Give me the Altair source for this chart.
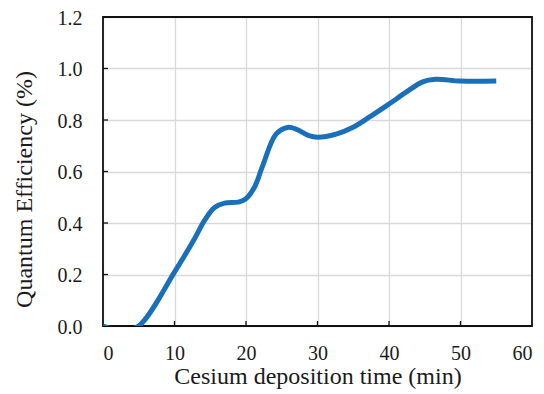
import altair as alt
import pandas as pd

# Cesium deposition time (min) and quantum efficiency (%)
time_min = [0, 2.8, 5.0, 10.1, 12.9, 14.2, 15.6, 17.0, 18.9, 19.9, 21.2, 22.3,
            24.2, 25.8, 27.0, 28.8, 30.0, 32.6, 34.9, 37.3, 40.0, 42.5, 44.7,
            46.5, 50.0, 55.0]
qe_pct = [0, -0.018, 0, 0.214, 0.344, 0.41, 0.46, 0.477, 0.481, 0.492, 0.54, 0.62,
          0.745, 0.771, 0.765, 0.739, 0.733, 0.745, 0.771, 0.812, 0.862, 0.91, 0.948,
          0.958, 0.951, 0.951]

x_ticks = [0, 10, 20, 30, 40, 50, 60]
y_ticks = [0.0, 0.2, 0.4, 0.6, 0.8, 1.0, 1.2]

df = pd.DataFrame({"t": time_min, "qe": qe_pct})
xt = pd.DataFrame({"t": x_ticks[1:-1]})
yt = pd.DataFrame({"qe": y_ticks[1:-1]})
frame_df = pd.DataFrame({"k": [0]})

W, H = 429, 309
FONT = "Liberation Serif, Times New Roman, DejaVu Serif, serif"
TXT = "#1a1a1a"

xscale = alt.Scale(domain=[0, 60], nice=False)
yscale = alt.Scale(domain=[0, 1.2], nice=False)

line = alt.Chart(df).mark_line(
    interpolate="catmull-rom", color="#1a6fba", strokeWidth=5, clip=True
).encode(
    x=alt.X("t:Q", scale=xscale,
            axis=alt.Axis(values=x_ticks, title="Cesium deposition time (min)",
                          grid=True, gridColor="#d9d9d9", gridWidth=1.3,
                          ticks=False, domain=False, labelPadding=17,
                          labelFontSize=20, titleFontSize=24,
                          titleBaseline="alphabetic", titleY=57,
                          labelFont=FONT, titleFont=FONT, labelColor=TXT,
                          titleColor=TXT, titleFontWeight="normal")),
    y=alt.Y("qe:Q", scale=yscale,
            axis=alt.Axis(values=y_ticks, format=".1f", title="Quantum Efficiency (%)",
                          grid=True, gridColor="#d9d9d9", gridWidth=1.3,
                          ticks=False, domain=False, labelPadding=21,
                          labelFontSize=20, titleFontSize=24,
                          labelBaseline="alphabetic", labelOffset=7,
                          titleBaseline="alphabetic", titleX=-72, titleY=172,
                          titleAngle=270, titleAlign="center",
                          labelFont=FONT, titleFont=FONT, labelColor=TXT,
                          titleColor=TXT, titleFontWeight="normal")),
)

frame = alt.Chart(frame_df).mark_rect(
    filled=False, stroke="#111", strokeWidth=1.8
).encode(x=alt.value(0), x2=alt.value(W), y=alt.value(0), y2=alt.value(H))

xticks = alt.Chart(xt).mark_rule(color="#111", strokeWidth=1.3).encode(
    x=alt.X("t:Q", scale=xscale), y=alt.value(H), y2=alt.value(H - 5)
)
yticks = alt.Chart(yt).mark_rule(color="#111", strokeWidth=1.3).encode(
    y=alt.Y("qe:Q", scale=yscale), x=alt.value(0), x2=alt.value(5)
)

chart = alt.layer(xticks, yticks, frame, line).properties(
    width=W, height=H,
    autosize=alt.AutoSizeParams(type="none"),
    padding={"left": 95, "top": 9, "right": 4, "bottom": 68},
).configure_view(stroke=None).configure(background="white", font=FONT)

chart.save("out.html", embed_options={"renderer": "svg", "actions": False})
